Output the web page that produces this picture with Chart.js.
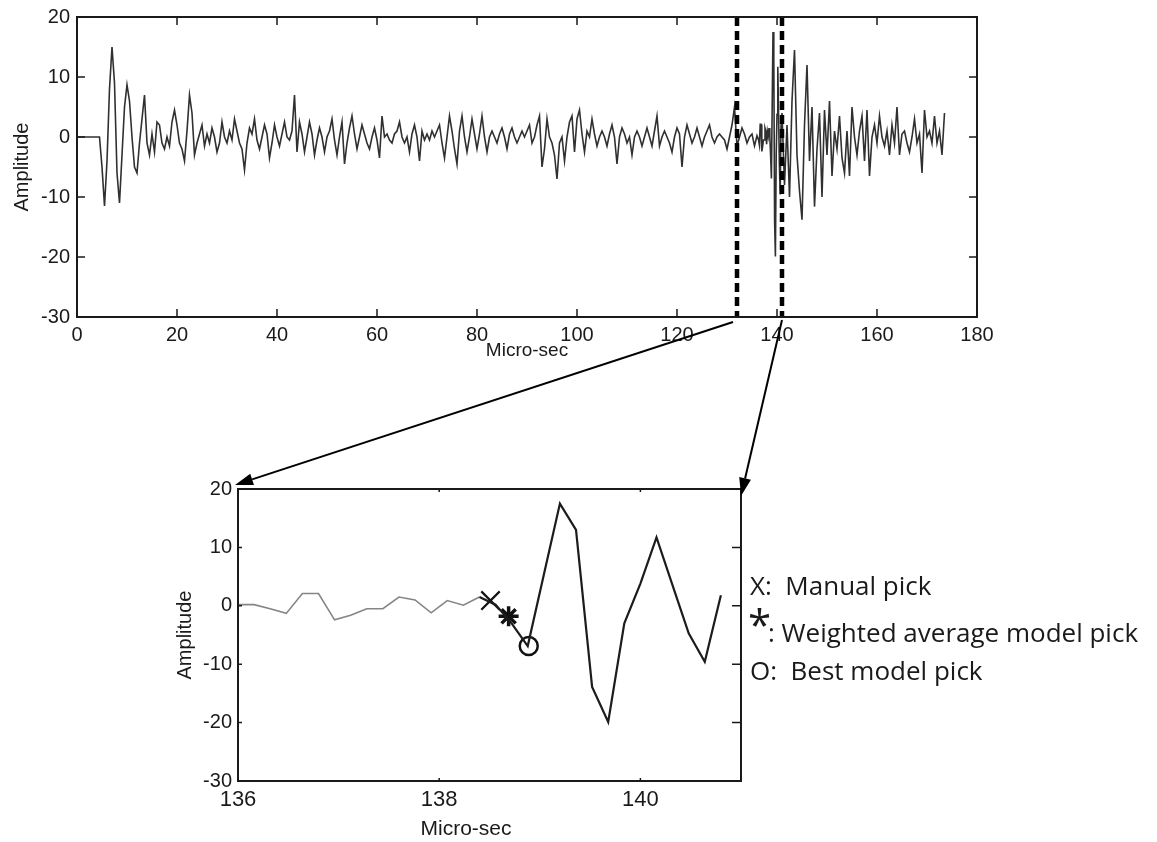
<!DOCTYPE html>
<html>
<head>
<meta charset="utf-8">
<title>Arrival picks</title>
<script src="https://cdn.jsdelivr.net/npm/chart.js@4.4.1/dist/chart.umd.min.js"></script>
<style>
  html, body { margin: 0; padding: 0; background: #fff; }
  body { width: 1157px; height: 842px; position: relative; overflow: hidden; }
  canvas { position: absolute; left: 0; top: 0; }
</style>
</head>
<body>
<canvas id="sweepChart" width="1000" height="380"></canvas>
<canvas id="zoomChart" width="1157" height="842"></canvas>
<script>
// full record, 0.5 us per sample up to the picking window
const sweepStart = 0;
const sweepStep = 0.5;
const sweepAmp = [
  0, 0, 0, 0, 0, 0, 0, 0, 0, 0,
  -5, -11.5, -4, 8, 15, 9, -6, -11, -3, 5,
  8.7, 6, 0, -5, -6, -1, 3, 7, -1, -3,
  0.5, -2.5, 2.5, 2, -1, -2, 0, -1.5, 2.5, 4.5,
  2, -1, -2, -4, 1, 7, 4, -3, -1, 0.5,
  2, -1.5, 0.5, -1, 1.5, 0, -2.5, -1, 2.5, 0,
  -1, 1, -0.5, 3, 1, -1, -2, -5.5, -1, 1.5,
  0.5, 3, -0.5, -2, 0, 2, 0.5, -3.5, -1, 2,
  0, -1.5, 0.5, 2.5, 0, -0.5, 1, 7, -2.5, 2.5,
  0.5, -2.5, 0, 2.5, 0.5, -3, -0.5, 1.5, 0, -2.5,
  0, 1, 3, -0.5, -3, 0, 2.5, -4.5, -1, 1.5,
  3.5, 0.5, -2, 0, 2, 0.5, -1, -2, 0, 1.5,
  -0.5, -3.5, 3.5, 0, 0.5, -0.5, -1, 0.5, 1, 2.5,
  0, -1, 0, -2.5, 0.5, 2, 0, -4, 1, -0.5,
  0.5, -0.5, 1, 0, 1, 2, -1, -3.5, 0, 3.5,
  1, -2, -4.5, 1, 3.5, 0, -2.5, 0, 3, 0.5,
  -2, 0.5, 3.5, 0, -2.5, 0, 1, 0, -1, 0.5,
  1.5, 0, -2, 0.5, 1.5, 0, -1, 0, 1, 0,
  1, 2, -1, 0, 2, 3.5, -5, -2, 3, 0,
  -1, -3, -7, -1, 0, -4, 0, 2.5, 3.5, -2.5,
  3, 4.5, 0.5, -2.5, 1, 0, 3, 0.5, -1.5, 0,
  1, 0, -1.5, 0.5, 2, 0, -4.5, 0, 1.5, 0.5,
  -1, 0, -3, 0, 1, 0, -1.5, 0, 1.5, 0,
  -1.5, 1, 3.5, -1.5, 0, 1, 0, -1, -2.5, 0,
  1.5, 0.5, -5, 0, 2, 0.5, -1, 0, 1.5, 0,
  -1.5, 0, 1, 2, 0, -1, 0, 0.5, 0, -0.5,
  -2, 0, 2, 5, -1.5, 0, 1.5, 0.5, -1, 0,
  0.5, -1.5
];

// picking window, every sample (6.25 MHz)
const windowTime = [
  136.00, 136.16, 136.32, 136.48, 136.64, 136.80, 136.96, 137.12, 137.28, 137.44,
  137.60, 137.76, 137.92, 138.08, 138.24, 138.40, 138.56, 138.72, 138.88, 139.04,
  139.20, 139.36, 139.52, 139.68, 139.84, 140.00, 140.16, 140.32, 140.48, 140.64,
  140.80
];
const windowAmp = [
  0.2, 0.2, -0.5, -1.3, 2.1, 2.1, -2.4, -1.6, -0.5, -0.5,
  1.5, 1.0, -1.2, 0.9, 0.1, 1.5, 0.2, -3.0, -6.9, 5.3,
  17.5, 13.0, -13.9, -19.9, -3.0, 3.8, 11.7, 3.5, -4.7, -9.6,
  1.8
];

// coda after the window, 0.5 us per sample
const tailStart = 141;
const tailAmp = [
  4, -8, 2, -10, 6, 14.5, -3, -9, -13.8, 2,
  12, -4, 5, -11.6, -2, 4, -10, 4.5, -3, 6,
  -6.5, 1, -2, 3.5, -3.5, -6, 1, -6.5, 5, 0,
  -3, 1, 3.5, -4, 4.5, -6.5, 0, 2, -1, 3.5,
  0, -1.5, 1, -3, 2, -1, 5, -3, 0.5, 1,
  -1, -2.5, 0, 3, -1, 0.5, -6, 4.5, 0, 1,
  -1, 3.5, -1, 1, -3, 4
];

// picks: manual, weighted average model, best model
const pickTimes = [138.51, 138.69, 138.89];
const pickAmps = [0.9, -1.8, -6.9];
const pickSymbols = ['X:', '*', 'O:'];
const pickNames = ['Manual pick', 'Weighted average model pick', 'Best model pick'];

// window edges marked on the full record
const zoomBounds = [132, 141];

const sweepXTicks = [0, 20, 40, 60, 80, 100, 120, 140, 160, 180];
const windowXTicks = [136, 138, 140];
const ampTicks = [-30, -20, -10, 0, 10, 20];

const FONT = "'Liberation Sans', Arial, Helvetica, sans-serif";
const KEY_FONT = "'Open Sans', 'Noto Sans', sans-serif";
const INK = '#1a1a1a';
Chart.defaults.font.family = FONT;
Chart.defaults.color = INK;
Chart.defaults.animation = false;

const toPoints = (t0, dt, amps) => amps.map((v, i) => ({ x: t0 + i * dt, y: v }));
const pairPoints = (ts, amps) => ts.map((t, i) => ({ x: t, y: amps[i] }));

const sweepPoints = toPoints(sweepStart, sweepStep, sweepAmp)
  .concat(pairPoints(windowTime, windowAmp))
  .concat(toPoints(tailStart, sweepStep, tailAmp));

// pin axis boxes to a fixed size so the plot areas land where we want them
function fixedBox(size) {
  return scale => {
    if (scale.isHorizontal()) scale.height = size; else scale.width = size;
    scale.paddingLeft = scale.paddingRight = scale.paddingTop = scale.paddingBottom = 0;
  };
}
const useTicks = list => scale => { scale.ticks = list.map(v => ({ value: v })); };

// box around the plot with inward tick marks
const framePlugin = {
  id: 'frame',
  afterDraw(chart, args, opts) {
    const { ctx, chartArea: a, scales: { x, y } } = chart;
    ctx.save();
    ctx.strokeStyle = INK;
    ctx.lineWidth = 2;
    ctx.strokeRect(a.left, a.top, a.right - a.left, a.bottom - a.top);
    ctx.lineWidth = 1.5;
    ctx.beginPath();
    x.ticks.forEach(t => {
      const px = x.getPixelForValue(t.value);
      ctx.moveTo(px, a.bottom); ctx.lineTo(px, a.bottom - opts.bottom);
      ctx.moveTo(px, a.top); ctx.lineTo(px, a.top + opts.top);
    });
    y.ticks.forEach(t => {
      const py = y.getPixelForValue(t.value);
      ctx.moveTo(a.left, py); ctx.lineTo(a.left + opts.left, py);
      ctx.moveTo(a.right, py); ctx.lineTo(a.right - opts.right, py);
    });
    ctx.stroke();
    ctx.restore();
  }
};

// dashed lines bounding the picking window
const windowLinesPlugin = {
  id: 'windowLines',
  afterDatasetsDraw(chart) {
    const { ctx, chartArea: a, scales: { x } } = chart;
    ctx.save();
    ctx.setLineDash([9, 5]);
    ctx.lineWidth = 4.5;
    ctx.strokeStyle = '#000';
    zoomBounds.forEach(t => {
      const px = x.getPixelForValue(t);
      ctx.beginPath();
      ctx.moveTo(px, a.top);
      ctx.lineTo(px, a.bottom);
      ctx.stroke();
    });
    ctx.restore();
  }
};

const sweepChart = new Chart(document.getElementById('sweepChart'), {
  type: 'line',
  data: {
    datasets: [{
      data: sweepPoints,
      borderColor: '#303030',
      borderWidth: 1.6,
      pointRadius: 0,
      tension: 0
    }]
  },
  options: {
    responsive: false,
    devicePixelRatio: 1,
    layout: { padding: { top: 17, right: 23, left: 0, bottom: 0 } },
    plugins: {
      legend: { display: false },
      tooltip: { enabled: false },
      frame: { top: 8, bottom: 8, left: 8, right: 8 }
    },
    scales: {
      x: {
        type: 'linear', min: 0, max: 180,
        afterFit: fixedBox(63),
        afterBuildTicks: useTicks(sweepXTicks),
        grid: { display: false, drawTicks: false },
        border: { display: false },
        ticks: { font: { size: 20 }, padding: 6, maxRotation: 0, autoSkip: false },
        title: { display: true, text: 'Micro-sec', font: { size: 19 }, padding: { top: 0, bottom: 18 } }
      },
      y: {
        type: 'linear', min: -30, max: 20,
        afterFit: fixedBox(77),
        afterBuildTicks: useTicks(ampTicks),
        grid: { display: false, drawTicks: false },
        border: { display: false },
        ticks: { font: { size: 20 }, padding: 7, autoSkip: false },
        title: { display: true, text: 'Amplitude', font: { size: 20 }, padding: { top: 10, bottom: 0 } }
      }
    }
  },
  plugins: [windowLinesPlugin, framePlugin]
});

function arrow(ctx, x0, y0, x1, y1) {
  const ang = Math.atan2(y1 - y0, x1 - x0);
  const len = 18, half = 6;
  const bx = x1 - len * Math.cos(ang), by = y1 - len * Math.sin(ang);
  ctx.beginPath();
  ctx.moveTo(x0, y0);
  ctx.lineTo(bx, by);
  ctx.stroke();
  ctx.beginPath();
  ctx.moveTo(x1, y1);
  ctx.lineTo(bx + half * Math.sin(ang), by - half * Math.cos(ang));
  ctx.lineTo(bx - half * Math.sin(ang), by + half * Math.cos(ang));
  ctx.closePath();
  ctx.fill();
}

// arrows from the window edges down to the zoomed axes, plus the pick key
const zoomLinksPlugin = {
  id: 'zoomLinks',
  afterDraw(chart) {
    const { ctx, chartArea: a } = chart;
    const sx = sweepChart.scales.x;
    const base = sweepChart.chartArea.bottom;
    ctx.save();
    ctx.strokeStyle = '#000';
    ctx.fillStyle = '#000';
    ctx.lineWidth = 2;
    arrow(ctx, sx.getPixelForValue(zoomBounds[0]) - 4, base + 5, a.left - 3, a.top - 4);
    arrow(ctx, sx.getPixelForValue(zoomBounds[1]), base + 3, a.right, a.top + 7);

    ctx.fillStyle = INK;
    ctx.textBaseline = 'alphabetic';
    ctx.textAlign = 'left';
    ctx.font = '26px ' + KEY_FONT;
    ctx.fillText(pickSymbols[0] + '  ' + pickNames[0], 750, 595);
    ctx.fillText(': ' + pickNames[1], 768, 642);
    ctx.fillText(pickSymbols[2] + '  ' + pickNames[2], 750, 680);
    ctx.font = '42px ' + KEY_FONT;
    ctx.fillText(pickSymbols[1], 748, 640);

    ctx.font = '21px ' + FONT;
    ctx.textAlign = 'center';
    ctx.textBaseline = 'middle';
    ctx.fillText('Micro-sec', 466, 829);
    ctx.restore();
  }
};

const pickAfter = c => c.p1.parsed.x > pickTimes[0];

new Chart(document.getElementById('zoomChart'), {
  type: 'line',
  data: {
    datasets: [
      {
        data: pairPoints(windowTime, windowAmp),
        borderColor: '#222',
        borderWidth: 1.6,
        pointRadius: 0,
        tension: 0,
        segment: {
          borderColor: c => pickAfter(c) ? '#1c1c1c' : '#858585',
          borderWidth: c => pickAfter(c) ? 2.2 : 1.6
        }
      },
      {
        data: [{ x: pickTimes[0], y: pickAmps[0] }],
        showLine: false, pointStyle: 'crossRot', pointRadius: 13,
        borderColor: '#111', borderWidth: 2.2
      },
      {
        data: [{ x: pickTimes[1], y: pickAmps[1] }],
        showLine: false, pointStyle: 'star', pointRadius: 10,
        borderColor: '#111', borderWidth: 3.5
      },
      {
        data: [{ x: pickTimes[2], y: pickAmps[2] }],
        showLine: false, pointStyle: 'circle', pointRadius: 9,
        borderColor: '#111', backgroundColor: 'rgba(0,0,0,0)', borderWidth: 2.5
      }
    ]
  },
  options: {
    responsive: false,
    devicePixelRatio: 1,
    layout: { padding: { top: 489, right: 416, left: 160, bottom: 0 } },
    plugins: {
      legend: { display: false },
      tooltip: { enabled: false },
      frame: { top: 3, bottom: 3, left: 4, right: 9 }
    },
    scales: {
      x: {
        type: 'linear', min: 136, max: 141,
        afterFit: fixedBox(61),
        afterBuildTicks: useTicks(windowXTicks),
        grid: { display: false, drawTicks: false },
        border: { display: false },
        ticks: { font: { size: 22 }, padding: 6, maxRotation: 0, autoSkip: false }
      },
      y: {
        type: 'linear', min: -30, max: 20,
        afterFit: fixedBox(78),
        afterBuildTicks: useTicks(ampTicks),
        grid: { display: false, drawTicks: false },
        border: { display: false },
        ticks: { font: { size: 20 }, padding: 6, autoSkip: false },
        title: { display: true, text: 'Amplitude', font: { size: 20 }, padding: { top: 13, bottom: 0 } }
      }
    }
  },
  plugins: [framePlugin, zoomLinksPlugin]
});
</script>
</body>
</html>
